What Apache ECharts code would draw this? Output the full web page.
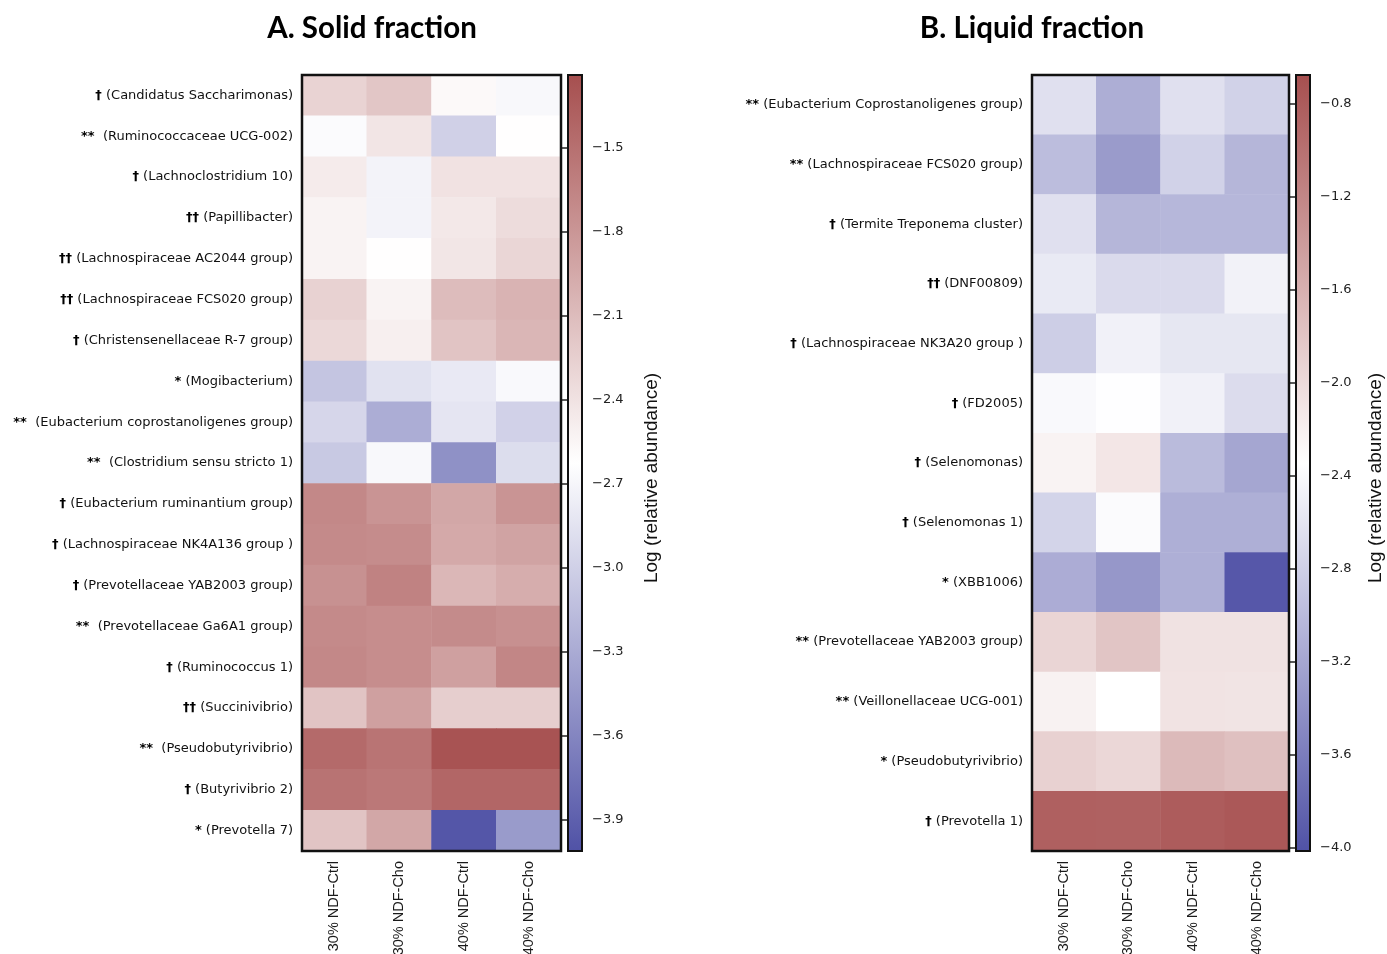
<!DOCTYPE html>
<html>
<head>
<meta charset="utf-8">
<script src="https://cdn.jsdelivr.net/npm/echarts@6/dist/echarts.min.js"></script>
<style>html,body{margin:0;padding:0;background:#fff}#chart{width:1387px;height:954px}</style>
</head>
<body>
<div id="chart"></div>
<script>
// ---------- DATA ----------
const conditions = ['30% NDF-Ctrl', '30% NDF-Cho', '40% NDF-Ctrl', '40% NDF-Cho'];

const solidTaxa = [
  '† (Candidatus Saccharimonas)',
  '**  (Ruminococcaceae UCG-002)',
  '† (Lachnoclostridium 10)',
  '†† (Papillibacter)',
  '†† (Lachnospiraceae AC2044 group)',
  '†† (Lachnospiraceae FCS020 group)',
  '† (Christensenellaceae R-7 group)',
  '* (Mogibacterium)',
  '**  (Eubacterium coprostanoligenes group)',
  '**  (Clostridium sensu stricto 1)',
  '† (Eubacterium ruminantium group)',
  '† (Lachnospiraceae NK4A136 group )',
  '† (Prevotellaceae YAB2003 group)',
  '**  (Prevotellaceae Ga6A1 group)',
  '† (Ruminococcus 1)',
  '†† (Succinivibrio)',
  '**  (Pseudobutyrivibrio)',
  '† (Butyrivibrio 2)',
  '* (Prevotella 7)'
];
// rows follow solidTaxa, columns follow conditions
const solidValues = [
  [-2.28, -2.18, -2.58, -2.68],
  [-2.66, -2.42, -3.00, -2.62],
  [-2.47, -2.72, -2.40, -2.40],
  [-2.53, -2.72, -2.44, -2.35],
  [-2.53, -2.62, -2.43, -2.30],
  [-2.27, -2.53, -2.10, -2.03],
  [-2.32, -2.50, -2.16, -2.05],
  [-3.09, -2.86, -2.80, -2.67],
  [-2.95, -3.28, -2.83, -2.99],
  [-3.06, -2.68, -3.51, -2.90],
  [-1.69, -1.78, -1.93, -1.78],
  [-1.70, -1.72, -1.95, -1.90],
  [-1.76, -1.64, -2.06, -1.98],
  [-1.70, -1.73, -1.71, -1.75],
  [-1.69, -1.73, -1.88, -1.67],
  [-2.16, -1.88, -2.24, -2.24],
  [-1.45, -1.53, -1.27, -1.27],
  [-1.52, -1.56, -1.42, -1.42],
  [-2.16, -1.93, -3.98, -3.43]
];
const solidRange = [-4.011, -1.239];
const solidTicks = [-1.5, -1.8, -2.1, -2.4, -2.7, -3.0, -3.3, -3.6, -3.9];

const liquidTaxa = [
  '** (Eubacterium Coprostanoligenes group)',
  '** (Lachnospiraceae FCS020 group)',
  '† (Termite Treponema cluster)',
  '†† (DNF00809)',
  '† (Lachnospiraceae NK3A20 group )',
  '† (FD2005)',
  '† (Selenomonas)',
  '† (Selenomonas 1)',
  '* (XBB1006)',
  '** (Prevotellaceae YAB2003 group)',
  '** (Veillonellaceae UCG-001)',
  '* (Pseudobutyrivibrio)',
  '† (Prevotella 1)'
];
const liquidValues = [
  [-2.64, -3.13, -2.64, -2.78],
  [-2.98, -3.31, -2.78, -3.05],
  [-2.64, -3.05, -3.04, -3.04],
  [-2.55, -2.70, -2.70, -2.47],
  [-2.82, -2.48, -2.58, -2.58],
  [-2.40, -2.35, -2.48, -2.68],
  [-2.23, -2.11, -3.00, -3.20],
  [-2.76, -2.38, -3.12, -3.12],
  [-3.14, -3.35, -3.12, -3.96],
  [-1.95, -1.79, -2.07, -2.07],
  [-2.22, -2.34, -2.08, -2.09],
  [-1.91, -1.96, -1.69, -1.75],
  [-0.84, -0.85, -0.80, -0.76]
];
const liquidRange = [-4.013, -0.675];
const liquidTicks = [-0.8, -1.2, -1.6, -2.0, -2.4, -2.8, -3.2, -3.6, -4.0];

// ---------- STYLE ----------
const RED = '#a64f4f', WHITE = '#ffffff', BLUE = '#5052a6';
const LABEL_FONT = 'DejaVu Sans';
const AXIS_FONT = 'Liberation Sans';

function cells(values) {
  const out = [];
  values.forEach((row, r) => row.forEach((v, c) => out.push([c, r, v])));
  return out;
}
const fmt = v => (v < 0 ? '\u2212' : '') + Math.abs(v).toFixed(1);

// split the significance marks from the name so the marks can be drawn heavier
function taxonLabel(s) {
  const m = s.match(/^([†*]+)(\s*)(.*)$/);
  if (!m) return s;
  return '{sym|' + m[1] + '}' + m[2] + m[3];
}

const G = {
  solidHeat: {left: 302, top: 75, width: 259, height: 776},
  solidBar: {left: 568, top: 75, width: 14, height: 776},
  liqHeat: {left: 1032, top: 75, width: 257, height: 776},
  liqBar: {left: 1296, top: 75, width: 14, height: 776}
};

function catX(gi) {
  return {
    gridIndex: gi, type: 'category', data: conditions,
    axisLine: {show: false}, axisTick: {show: false}, splitLine: {show: false},
    axisLabel: {rotate: 90, margin: 10, fontFamily: AXIS_FONT, fontSize: 14.5, color: '#1a1a1a', interval: 0}
  };
}
function catY(gi, taxa) {
  return {
    gridIndex: gi, type: 'category', data: taxa, inverse: true,
    axisLine: {show: false}, axisTick: {show: false}, splitLine: {show: false},
    axisLabel: {
      margin: 9, fontFamily: LABEL_FONT, fontSize: 13, color: '#111', interval: 0,
      formatter: taxonLabel,
      rich: {sym: {fontFamily: LABEL_FONT, fontSize: 13, fontWeight: 'bold', color: '#000'}}
    }
  };
}
function barX(gi) {
  return {gridIndex: gi, type: 'value', min: 0, max: 1, show: false};
}
function barY(gi, range, ticks) {
  return {
    gridIndex: gi, type: 'value', min: range[0], max: range[1], position: 'right',
    axisLine: {show: false}, splitLine: {show: false},
    axisTick: {show: true, inside: true, length: 14, customValues: ticks, lineStyle: {color: '#222', width: 1.5}},
    axisLabel: {show: true, margin: 10, customValues: ticks, formatter: fmt, fontFamily: LABEL_FONT, fontSize: 13, color: '#222'}
  };
}
function barSeries(gi, range) {
  return {
    type: 'custom', xAxisIndex: gi, yAxisIndex: gi, silent: true, z: 1,
    data: [[0, range[1], 1, range[0]]],
    renderItem: function (params, api) {
      const p0 = api.coord([api.value(0), api.value(1)]);
      const p1 = api.coord([api.value(2), api.value(3)]);
      return {
        type: 'rect',
        shape: {x: p0[0], y: p0[1], width: p1[0] - p0[0], height: p1[1] - p0[1]},
        style: {fill: new echarts.graphic.LinearGradient(0, 0, 0, 1, [
          {offset: 0, color: RED}, {offset: 0.5, color: WHITE}, {offset: 1, color: BLUE}
        ])}
      };
    }
  };
}
function frame(g, lw) {
  return {type: 'rect', z: 100, silent: true,
    shape: {x: g.left, y: g.top, width: g.width, height: g.height},
    style: {fill: null, stroke: '#111', lineWidth: lw}};
}

const chart = echarts.init(document.getElementById('chart'), null, {renderer: 'canvas'});
chart.setOption({
  backgroundColor: '#ffffff',
  animation: false,
  grid: [G.solidHeat, G.solidBar, G.liqHeat, G.liqBar].map(g => Object.assign({containLabel: false, outerBoundsMode: 'none'}, g)),
  xAxis: [catX(0), barX(1), catX(2), barX(3)],
  yAxis: [catY(0, solidTaxa), barY(1, solidRange, solidTicks), catY(2, liquidTaxa), barY(3, liquidRange, liquidTicks)],
  visualMap: [
    {type: 'continuous', show: false, seriesIndex: 0, min: solidRange[0], max: solidRange[1], inRange: {color: [BLUE, WHITE, RED]}},
    {type: 'continuous', show: false, seriesIndex: 2, min: liquidRange[0], max: liquidRange[1], inRange: {color: [BLUE, WHITE, RED]}}
  ],
  series: [
    {type: 'heatmap', xAxisIndex: 0, yAxisIndex: 0, data: cells(solidValues), itemStyle: {borderWidth: 0}, emphasis: {disabled: true}},
    barSeries(1, solidRange),
    {type: 'heatmap', xAxisIndex: 2, yAxisIndex: 2, data: cells(liquidValues), itemStyle: {borderWidth: 0}, emphasis: {disabled: true}},
    barSeries(3, liquidRange)
  ],
  graphic: [
    frame(G.solidHeat, 2.5), frame(G.solidBar, 2), frame(G.liqHeat, 2.5), frame(G.liqBar, 2),
    {type: 'text', x: 372, y: 28, style: {text: 'A. Solid fraction', font: 'bold 29.5px Lato', fill: '#000', align: 'center', verticalAlign: 'middle'}},
    {type: 'text', x: 1032, y: 28, style: {text: 'B. Liquid fraction', font: 'bold 29.5px Lato', fill: '#000', align: 'center', verticalAlign: 'middle'}},
    {type: 'text', x: 652, y: 478, rotation: Math.PI / 2, style: {text: 'Log (relative abundance)', font: '19px "Liberation Sans"', fill: '#111', align: 'center', verticalAlign: 'middle'}},
    {type: 'text', x: 1376, y: 478, rotation: Math.PI / 2, style: {text: 'Log (relative abundance)', font: '19px "Liberation Sans"', fill: '#111', align: 'center', verticalAlign: 'middle'}}
  ]
});
</script>
</body>
</html>
